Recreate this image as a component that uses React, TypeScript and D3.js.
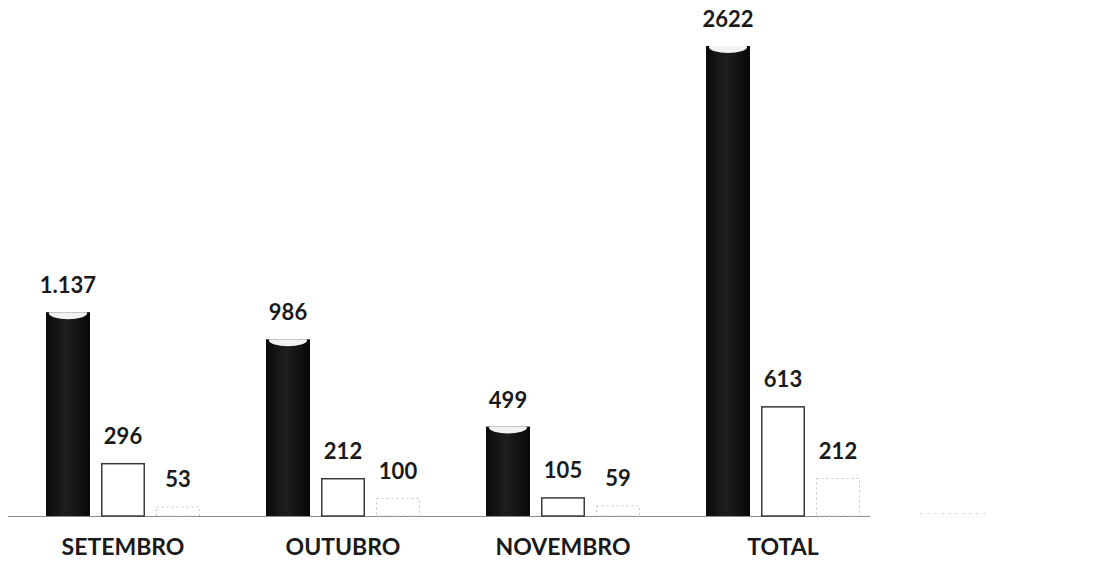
import * as d3 from 'd3';

const categories = ['SETEMBRO', 'OUTUBRO', 'NOVEMBRO', 'TOTAL'];
const seriesKeys = ['s1', 's2', 's3'];
const series1 = [1137, 986, 499, 2622];
const series2 = [296, 212, 105, 613];
const series3 = [53, 100, 59, 212];
const valueLabels = [
  ['1.137', '986', '499', '2622'],
  ['296', '212', '105', '613'],
  ['53', '100', '59', '212'],
];

const width = 1104;
const height = 578;
const baseY = 516;
const FONT = 'Lato, "Open Sans", "DejaVu Sans", sans-serif';

export default function App() {
  const seriesValues = [series1, series2, series3];

  const x = d3.scaleBand<string>()
    .domain(categories)
    .range([40.5, 865.5])
    .paddingInner(0.25)
    .paddingOuter(0);

  const xInner = d3.scaleBand<string>()
    .domain(seriesKeys)
    .range([0, x.bandwidth()])
    .paddingInner(0.2)
    .paddingOuter(0.1);

  const y = d3.scaleLinear()
    .domain([0, 2622])
    .range([baseY, 46]);

  const bw = xInner.bandwidth();

  return (
    <svg
      width={width}
      height={height}
      style={{ position: 'absolute', left: 0, top: 0, background: '#fff' }}
    >
      <defs>
        <linearGradient id="darkGrad" x1="0" x2="1" y1="0" y2="0">
          <stop offset="0%" stopColor="#0a0a0a" />
          <stop offset="45%" stopColor="#1e1e1e" />
          <stop offset="100%" stopColor="#080808" />
        </linearGradient>
        {categories.map((c, i) => (
          <clipPath id={`clip-${i}`} key={c}>
            <rect
              x={(x(c) || 0) + (xInner('s1') || 0)}
              y={y(series1[i])}
              width={bw}
              height={baseY - y(series1[i])}
            />
          </clipPath>
        ))}
      </defs>

      {/* baseline */}
      <line x1={8} x2={870} y1={baseY + 0.5} y2={baseY + 0.5} stroke="#8a8a8a" strokeWidth={1} />
      <line x1={920} x2={990} y1={513.5} y2={513.5} stroke="#ddd" strokeWidth={1} strokeDasharray="3,4" />

      {categories.map((c, i) => {
        const gx = x(c) || 0;
        return (
          <g key={c}>
            {seriesKeys.map((k, si) => {
              const v = seriesValues[si][i];
              const bx = gx + (xInner(k) || 0);
              const by = y(v);
              const h = baseY - by;
              const label = valueLabels[si][i];
              return (
                <g key={k}>
                  {si === 0 && (
                    <g>
                      <rect x={bx} y={by} width={bw} height={h} fill="url(#darkGrad)" />
                      <ellipse
                        cx={bx + bw / 2}
                        cy={by + 1}
                        rx={bw / 2 - 3}
                        ry={6}
                        fill="#f2f2f2"
                        clipPath={`url(#clip-${i})`}
                      />
                    </g>
                  )}
                  {si === 1 && (
                    <rect
                      x={bx + 0.75}
                      y={by + 0.75}
                      width={bw - 1.5}
                      height={h - 0.75}
                      fill="#fff"
                      stroke="#3a3a3a"
                      strokeWidth={1.5}
                    />
                  )}
                  {si === 2 && (
                    <rect
                      x={bx + 0.5}
                      y={by + 0.5}
                      width={bw - 1}
                      height={h - 0.5}
                      fill="#fff"
                      stroke="#c4c4c4"
                      strokeWidth={1}
                      strokeDasharray="2,3"
                    />
                  )}
                  <text
                    x={bx + bw / 2}
                    y={by - 19}
                    textAnchor="middle"
                    fontFamily={FONT}
                    fontWeight={700}
                    fontSize={22}
                    fill="#1a1a1a"
                  >
                    {label}
                  </text>
                </g>
              );
            })}
            <text
              x={gx + x.bandwidth() / 2}
              y={555}
              textAnchor="middle"
              fontFamily={FONT}
              fontWeight={700}
              fontSize={23}
              fill="#1a1a1a"
            >
              {c}
            </text>
          </g>
        );
      })}
    </svg>
  );
}
